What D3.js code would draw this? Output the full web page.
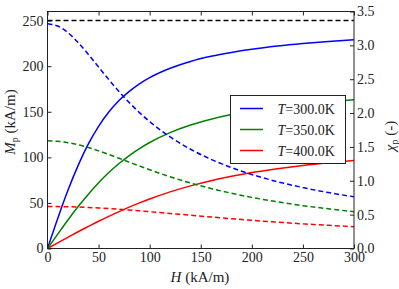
<!DOCTYPE html>
<html>
<head>
<meta charset="utf-8">
<script src="https://cdn.jsdelivr.net/npm/d3@7"></script>
<style>
  body { margin: 0; background: #fff; }
  svg { display: block; }
  text { font-family: "Liberation Serif", "DejaVu Serif", serif; fill: #222; }
</style>
</head>
<body>
<div id="chart"></div>
<script>
// field values (kA/m)
var H = [0,10,20,30,40,50,60,70,80,90,100,120,140,160,180,200,225,250,275,300];
// magnetisation M_p (kA/m), left axis
var M300 = [0,32.9,63.8,91.2,114.7,134.0,149.7,162.3,172.4,180.7,187.4,197.7,205.2,210.8,215.1,218.6,222.1,224.9,227.2,229.1];
var M350 = [0,15.8,31.3,46.0,59.6,72.1,83.3,93.2,102.0,109.6,116.3,127.1,135.4,141.8,146.9,151.0,155.1,158.4,161.1,163.3];
var M400 = [0,6.2,12.3,18.4,24.2,29.9,35.3,40.5,45.4,50.0,54.3,62.1,68.7,74.4,79.2,83.3,87.6,91.1,94.0,96.5];
// susceptibility chi_p (-), right axis
var chi300 = [3.32,3.285,3.187,3.041,2.866,2.680,2.494,2.318,2.155,2.007,1.874,1.648,1.466,1.317,1.195,1.093,0.987,0.900,0.826,0.764];
var chi350 = [1.59,1.583,1.563,1.532,1.491,1.442,1.388,1.332,1.275,1.218,1.163,1.059,0.967,0.886,0.816,0.755,0.689,0.633,0.586,0.544];
var chi400 = [0.62,0.619,0.616,0.612,0.606,0.598,0.589,0.579,0.568,0.556,0.543,0.517,0.491,0.465,0.440,0.416,0.389,0.364,0.342,0.322];
var Msat = 250;
var temps = ["300.0", "350.0", "400.0"];
var colors = ["#0000ff", "#008000", "#ff0000"];

var xTicks = [0,50,100,150,200,250,300];
var yTicks = [0,50,100,150,200,250];
var y2Ticks = [0,0.5,1,1.5,2,2.5,3,3.5];

var width = 399, height = 289;
var pL = 47.5, pR = 354, pT = 11.5, pB = 248.5;

var svg = d3.select("#chart").append("svg")
  .attr("width", width)
  .attr("height", height);

var x = d3.scaleLinear().domain([0, 300]).range([pL, pR]);
var y = d3.scaleLinear().domain([0, 260]).range([pB, pT]);
var y2 = d3.scaleLinear().domain([0, 3.5]).range([pB, pT]);

svg.append("clipPath").attr("id", "clip")
  .append("rect")
  .attr("x", pL).attr("y", pT)
  .attr("width", pR - pL).attr("height", pB - pT);

var plot = svg.append("g").attr("clip-path", "url(#clip)");

// saturation line
plot.append("line")
  .attr("x1", x(0)).attr("x2", x(300))
  .attr("y1", y(Msat)).attr("y2", y(Msat))
  .attr("stroke", "#000")
  .attr("stroke-width", 1.5)
  .attr("stroke-dasharray", "5,3");

var Ms = [M300, M350, M400];
var chis = [chi300, chi350, chi400];

var lineM = d3.line()
  .x(function(d, i) { return x(H[i]); })
  .y(function(d) { return y(d); })
  .curve(d3.curveMonotoneX);
var lineChi = d3.line()
  .x(function(d, i) { return x(H[i]); })
  .y(function(d) { return y2(d); })
  .curve(d3.curveMonotoneX);

Ms.forEach(function(s, k) {
  plot.append("path")
    .attr("d", lineM(s))
    .attr("fill", "none")
    .attr("stroke", colors[k])
    .attr("stroke-width", 1.5);
});
chis.forEach(function(s, k) {
  plot.append("path")
    .attr("d", lineChi(s))
    .attr("fill", "none")
    .attr("stroke", colors[k])
    .attr("stroke-width", 1.5)
    .attr("stroke-dasharray", "5,3");
});

// axes with inward ticks
function styleAxis(g) {
  g.attr("font-family", null).attr("font-size", null);
  g.select(".domain").remove();
  g.selectAll(".tick line").attr("stroke", "#222");
  g.selectAll(".tick text").style("font-size", "14px");
}

svg.append("g")
  .attr("transform", "translate(0," + pB + ")")
  .call(d3.axisBottom(x).tickValues(xTicks).tickSizeInner(-4).tickSizeOuter(0).tickPadding(4))
  .call(styleAxis);
svg.append("g")
  .attr("transform", "translate(0," + pT + ")")
  .call(d3.axisTop(x).tickValues(xTicks).tickSizeInner(-4).tickSizeOuter(0).tickFormat(""))
  .call(styleAxis);
svg.append("g")
  .attr("transform", "translate(" + pL + ",0)")
  .call(d3.axisLeft(y).tickValues(yTicks).tickSizeInner(-4).tickSizeOuter(0).tickPadding(4))
  .call(styleAxis);
svg.append("g")
  .attr("transform", "translate(" + pR + ",0)")
  .call(d3.axisRight(y2).tickValues(y2Ticks).tickSizeInner(-4).tickSizeOuter(0).tickPadding(3)
    .tickFormat(d3.format(".1f")))
  .call(styleAxis);

// frame
svg.append("rect")
  .attr("x", pL).attr("y", pT)
  .attr("width", pR - pL).attr("height", pB - pT)
  .attr("fill", "none")
  .attr("stroke", "#222")
  .attr("stroke-width", 1);

// axis labels
var xl = svg.append("text")
  .attr("x", 200).attr("y", 282)
  .attr("text-anchor", "middle")
  .style("font-size", "15px");
xl.append("tspan").attr("font-style", "italic").text("H");
xl.append("tspan").text(" (kA/m)");

var yl = svg.append("text")
  .attr("transform", "translate(15,122) rotate(-90)")
  .attr("text-anchor", "middle")
  .style("font-size", "15px");
yl.append("tspan").attr("font-style", "italic").text("M");
yl.append("tspan").attr("dy", 3).style("font-size", "10px").text("p");
yl.append("tspan").attr("dy", -3).text(" (kA/m)");

var y2l = svg.append("text")
  .attr("transform", "translate(395,136) rotate(-90)")
  .attr("text-anchor", "middle")
  .style("font-size", "15px");
y2l.append("tspan").attr("font-style", "italic").text("χ");
y2l.append("tspan").attr("dy", 3).style("font-size", "10px").text("p");
y2l.append("tspan").attr("dy", -3).text(" (-)");

// legend
var leg = svg.append("g");
leg.append("rect")
  .attr("x", 230.5).attr("y", 95.5)
  .attr("width", 115).attr("height", 68)
  .attr("fill", "#fff")
  .attr("stroke", "#222")
  .attr("stroke-width", 1);
temps.forEach(function(t, k) {
  var ly = 108.5 + k * 21;
  leg.append("line")
    .attr("x1", 240).attr("x2", 263)
    .attr("y1", ly).attr("y2", ly)
    .attr("stroke", colors[k])
    .attr("stroke-width", 1.5);
  var tx = leg.append("text")
    .attr("x", 277.5).attr("y", ly + 5)
    .style("font-size", "14px");
  tx.append("tspan").attr("font-style", "italic").text("T");
  tx.append("tspan").text("=" + t + "K");
});
</script>
</body>
</html>
